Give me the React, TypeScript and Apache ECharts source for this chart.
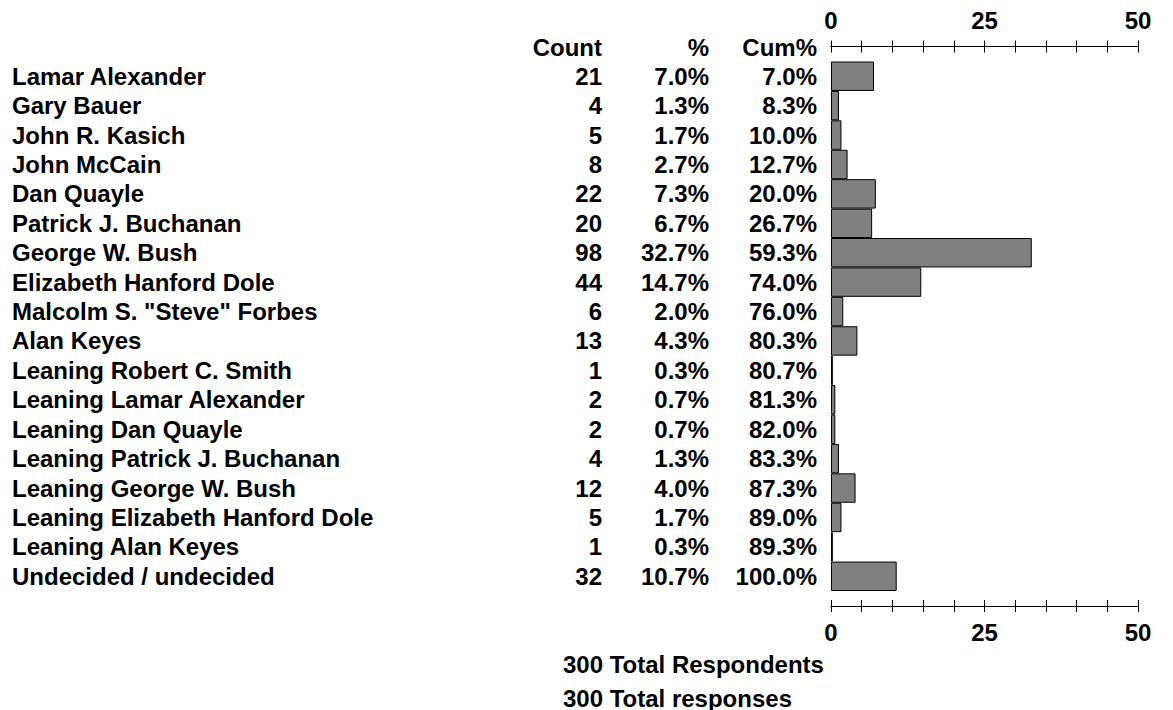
import React, { useEffect, useRef } from "react";
import * as echarts from "echarts";

const names = [
  "Lamar Alexander",
  "Gary Bauer",
  "John R. Kasich",
  "John McCain",
  "Dan Quayle",
  "Patrick J. Buchanan",
  "George W. Bush",
  "Elizabeth Hanford Dole",
  'Malcolm S. "Steve" Forbes',
  "Alan Keyes",
  "Leaning Robert C. Smith",
  "Leaning Lamar Alexander",
  "Leaning Dan Quayle",
  "Leaning Patrick J. Buchanan",
  "Leaning George W. Bush",
  "Leaning Elizabeth Hanford Dole",
  "Leaning Alan Keyes",
  "Undecided / undecided",
];
const counts = [21, 4, 5, 8, 22, 20, 98, 44, 6, 13, 1, 2, 2, 4, 12, 5, 1, 32];
const percents = [7.0, 1.3, 1.7, 2.7, 7.3, 6.7, 32.7, 14.7, 2.0, 4.3, 0.3, 0.7, 0.7, 1.3, 4.0, 1.7, 0.3, 10.7];
const cumPercents = [7.0, 8.3, 10.0, 12.7, 20.0, 26.7, 59.3, 74.0, 76.0, 80.3, 80.7, 81.3, 82.0, 83.3, 87.3, 89.0, 89.3, 100.0];
const axisTicks = [0, 25, 50];
const totalRespondents = 300;
const totalResponses = 300;

const FONT = "Liberation Sans, Arial, Helvetica, sans-serif";
const FS = 24;

export default function App() {
  const ref = useRef<HTMLDivElement>(null);
  useEffect(() => {
    document.body.style.margin = "0";
    const chart = echarts.init(ref.current!, null, { renderer: "svg" });
    const gridLeft = 831;
    const textBase = { fontFamily: FONT, fontWeight: "bold" as const, fontSize: FS, color: "#000" };
    const labelShow = (v: number) => (axisTicks.indexOf(v) >= 0 ? String(v) : "");
    const mkX = (position: "top" | "bottom", inside: boolean, showLabel: boolean) => ({
      type: "value" as const,
      position,
      offset: 15,
      min: 0,
      max: 50,
      interval: 5,
      splitLine: { show: false },
      axisLine: { show: true, lineStyle: { color: "#000", width: 1 } },
      axisTick: { show: true, inside, length: 6, lineStyle: { color: "#000", width: 1 } },
      axisLabel: {
        show: showLabel,
        ...textBase,
        margin: 14,
        formatter: (v: number) => labelShow(v),
      },
    });
    const mkY = (data: string[], align: "left" | "right", margin: number) => ({
      type: "category" as const,
      data,
      inverse: true,
      position: "left" as const,
      axisLine: { show: false },
      axisTick: { show: false },
      splitLine: { show: false },
      axisLabel: { ...textBase, align, margin, interval: 0 },
    });
    const font = `bold ${FS}px ${FONT}`;
    chart.setOption({
      animation: false,
      grid: { left: gridLeft, right: 35, top: 61.5, height: 529.5, containLabel: false },
      xAxis: [
        mkX("top", false, true),
        mkX("top", true, false),
        mkX("bottom", false, true),
        mkX("bottom", true, false),
      ],
      yAxis: [
        mkY(names, "left", 819),
        mkY(counts.map(String), "right", 229),
        mkY(percents.map((p) => p.toFixed(1) + "%"), "right", 122),
        mkY(cumPercents.map((p) => p.toFixed(1) + "%"), "right", 14),
      ],
      series: [
        {
          type: "bar",
          xAxisIndex: 0,
          yAxisIndex: 0,
          data: percents,
          barCategoryGap: 0,
          itemStyle: { color: "#808080", borderColor: "#000", borderWidth: 1 },
        },
      ],
      graphic: [
        { type: "text", x: 602, y: 47, style: { text: "Count", fill: "#000", font, align: "right", verticalAlign: "middle" } },
        { type: "text", x: 709, y: 47, style: { text: "%", fill: "#000", font, align: "right", verticalAlign: "middle" } },
        { type: "text", x: 817, y: 47, style: { text: "Cum%", fill: "#000", font, align: "right", verticalAlign: "middle" } },
        { type: "text", x: 563, y: 664, style: { text: `${totalRespondents} Total Respondents`, fill: "#000", font, align: "left", verticalAlign: "middle" } },
        { type: "text", x: 563, y: 698, style: { text: `${totalResponses} Total responses`, fill: "#000", font, align: "left", verticalAlign: "middle" } },
      ],
    });
    return () => chart.dispose();
  }, []);
  return <div ref={ref} style={{ width: 1173, height: 710 }} />;
}
